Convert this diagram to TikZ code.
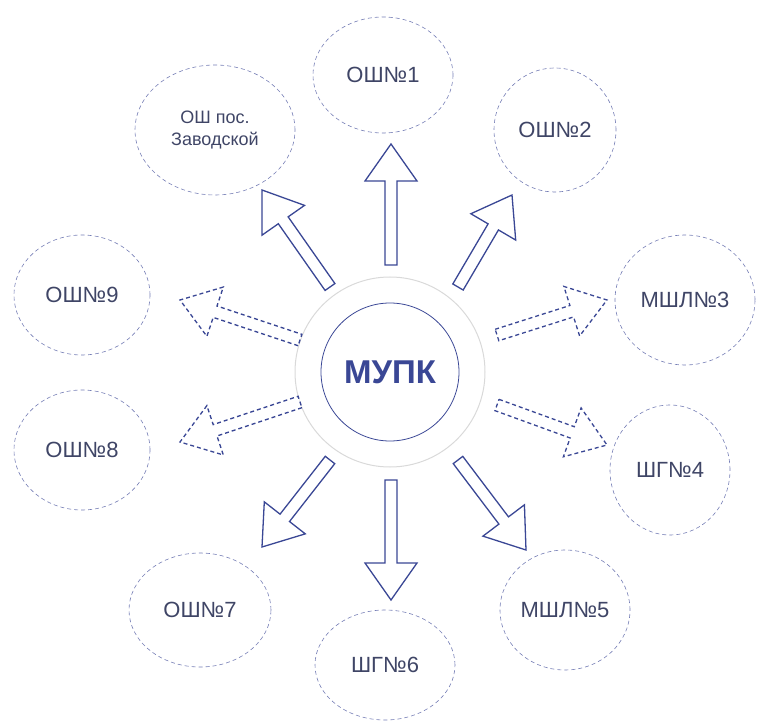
\documentclass[tikz,border=0pt]{standalone}
\usepackage{fontspec}
\setmainfont{Liberation Sans}
\usetikzlibrary{calc,shapes.geometric}
\definecolor{ablue}{HTML}{3A4795}
\definecolor{tgray}{HTML}{3F4566}
\newcommand\headlen{37pt}
\newcommand\headw{26pt}
\newcommand\shaftw{6pt}
\newcommand\blockarrow[3][]{%
  \coordinate (ba-h) at ($(#3)!\headlen!(#2)$);
  \draw[arr,#1] ($(#2)!\shaftw!90:(#3)$) -- ($(ba-h)!\shaftw!-90:(#2)$) -- ($(ba-h)!\headw!-90:(#2)$) -- (#3) -- ($(ba-h)!\headw!90:(#2)$) -- ($(ba-h)!\shaftw!90:(#2)$) -- ($(#2)!\shaftw!-90:(#3)$) -- cycle;
}
\tikzset{
  school/.style={ellipse, draw=ablue!70, line width=0.6pt, dash pattern=on 4pt off 3pt, minimum width=#1, text=tgray, font=\fontsize{22}{24}\selectfont, align=center, inner sep=0pt},
  arr/.style={draw=ablue, line width=1.3pt, fill=white, line join=miter},
  dasharr/.style={dash pattern=on 4pt off 3pt}
}
\begin{document}
\begin{tikzpicture}[x=1pt,y=-1pt]
\useasboundingbox (0,0) rectangle (761,727);
% center
\node[circle, draw=black!15, line width=1pt, minimum size=190pt] (outer) at (390,372) {};
\node[circle, draw=ablue, line width=0.8pt, minimum size=138pt, text=ablue, font=\fontsize{33}{35}\bfseries\selectfont] (c) at (390,372) {МУПК};
% ellipses
\node[school=140pt, minimum height=116pt] (s1) at (383,75) {ОШ№1};
\node[school=160pt, minimum height=130pt, font=\fontsize{18}{22}\selectfont] (sz) at (215,130) {ОШ пос.\\Заводской};
\node[school=122pt, minimum height=124pt] (s2) at (555,130) {ОШ№2};
\node[school=136pt, minimum height=120pt] (s9) at (82,295) {ОШ№9};
\node[school=140pt, minimum height=130pt] (s3) at (685,300) {МШЛ№3};
\node[school=136pt, minimum height=120pt] (s8) at (82,450) {ОШ№8};
\node[school=120pt, minimum height=130pt] (s4) at (670,470) {ШГ№4};
\node[school=142pt, minimum height=114pt] (s7) at (200,610) {ОШ№7};
\node[school=130pt, minimum height=120pt] (s5) at (565,610) {МШЛ№5};
\node[school=140pt, minimum height=110pt] (s6) at (385,665) {ШГ№6};
% arrow end points
\coordinate (a1s) at (391,265); \coordinate (a1t) at (391,144);
\coordinate (a6s) at (391,480); \coordinate (a6t) at (391,600);
\coordinate (azs) at (330,287); \coordinate (azt) at (262,190);
\coordinate (a2s) at (458,287); \coordinate (a2t) at (512,195);
\coordinate (a9s) at (300,340); \coordinate (a9t) at (180,300);
\coordinate (a3s) at (497,335); \coordinate (a3t) at (607,300);
\coordinate (a8s) at (300,402); \coordinate (a8t) at (180,442);
\coordinate (a4s) at (497,405); \coordinate (a4t) at (607,445);
\coordinate (a7s) at (330,460); \coordinate (a7t) at (262,547);
\coordinate (a5s) at (458,460); \coordinate (a5t) at (526,550);
\blockarrow{a1s}{a1t}
\blockarrow{a6s}{a6t}
\blockarrow{azs}{azt}
\blockarrow{a2s}{a2t}
\blockarrow[dasharr]{a9s}{a9t}
\blockarrow[dasharr]{a3s}{a3t}
\blockarrow[dasharr]{a8s}{a8t}
\blockarrow[dasharr]{a4s}{a4t}
\blockarrow{a7s}{a7t}
\blockarrow{a5s}{a5t}
\end{tikzpicture}
\end{document}
